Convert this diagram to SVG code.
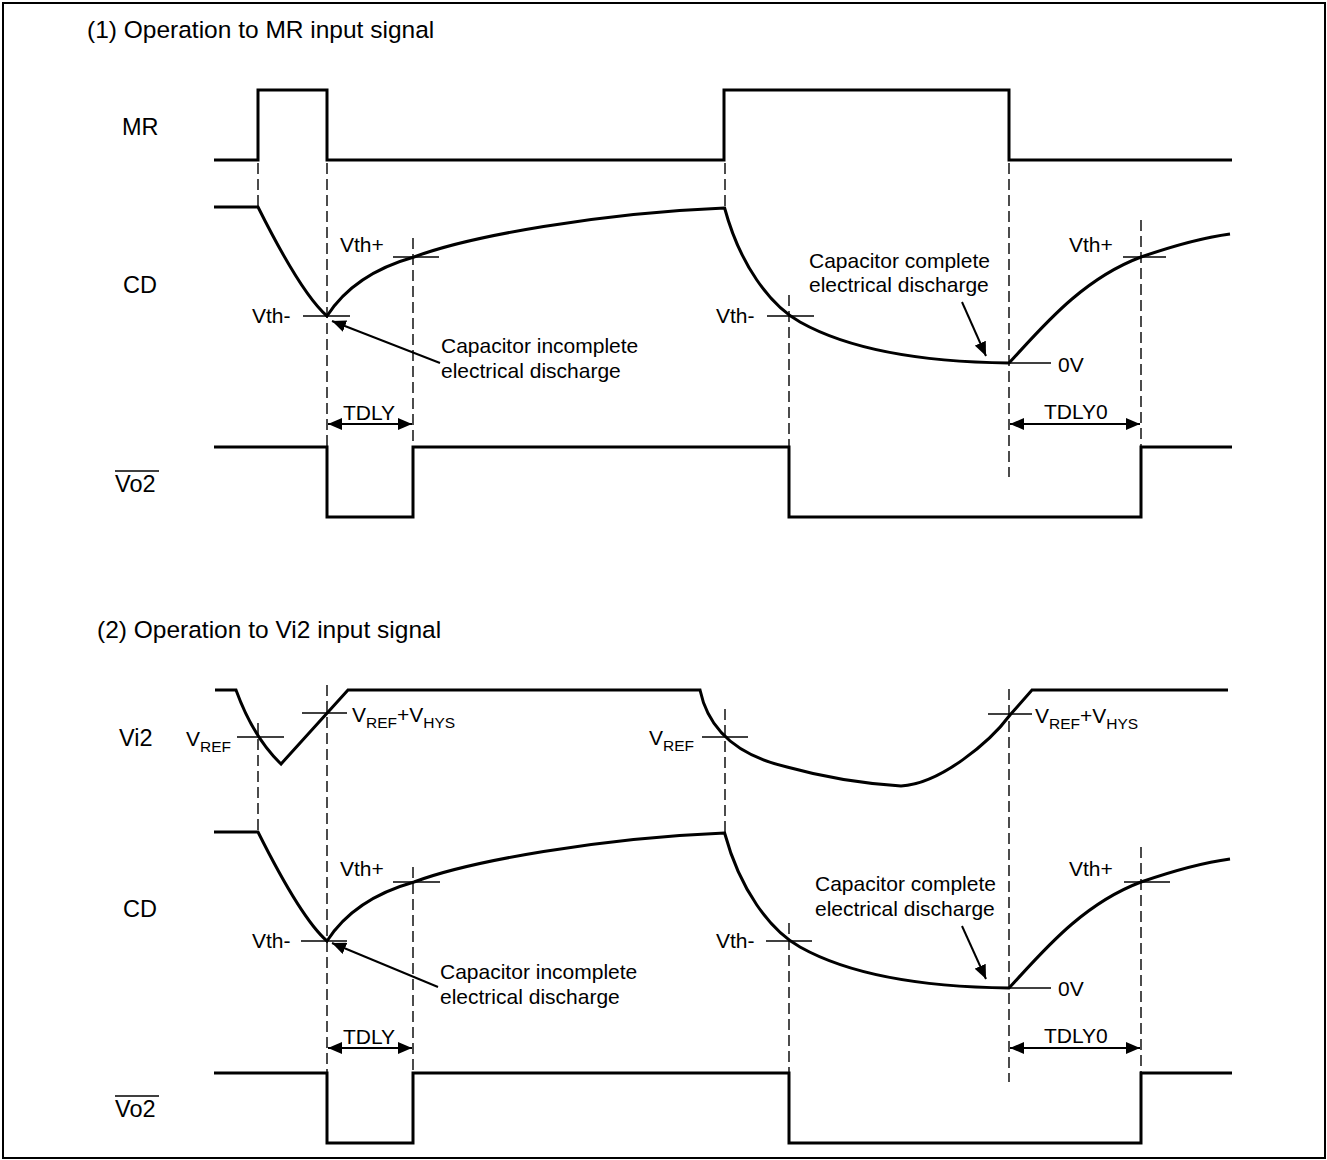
<svg xmlns="http://www.w3.org/2000/svg" width="1327" height="1160" viewBox="0 0 1327 1160">
<defs>
<marker id="ah" viewBox="0 0 14 12" refX="14" refY="6" markerWidth="14" markerHeight="12" markerUnits="userSpaceOnUse" orient="auto-start-reverse">
<path d="M0,0 L14,6 L0,12 z" fill="#000"/>
</marker>
<style>
text{font-family:"Liberation Sans",Arial,sans-serif;fill:#000}
.title{font-size:24.5px}
.lbl{font-size:23.5px}
.ann{font-size:21px}
.sub{font-size:15.5px}
.wave{fill:none;stroke:#000;stroke-width:3;stroke-linejoin:miter}
.tick{fill:none;stroke:#000;stroke-width:1.3}
.dash{fill:none;stroke:#000;stroke-width:1.4;stroke-dasharray:11 5}
.arr{fill:none;stroke:#000;stroke-width:2}
</style>
</defs>
<rect x="3" y="3" width="1322" height="1155" fill="#fff" stroke="#000" stroke-width="2"/>

<g id="section1">
<text class="title" x="87" y="38">(1) Operation to MR input signal</text>
<g id="mr-signal">
<text class="lbl" x="122" y="135">MR</text>
<path class="wave" d="M214,160 L258,160 L258,90 L327,90 L327,160 L724,160 L724,90 L1009,90 L1009,160 L1232,160"/>
</g>
<g id="cd-signal-1">
<text class="lbl" x="123" y="293">CD</text>
<path class="wave" d="M214,207 L258,207 C275,241 305,297 327,316 C345,288 375,268 414,257 C470,236 600,213 724.6,208 C740,265 770,305 800,322 C850,350 920,362 1009,363 C1040,330 1080,280 1141,257 C1170,247 1200,238 1230,234"/>
<line class="tick" x1="303" y1="316" x2="350" y2="316"/>
<line class="tick" x1="393" y1="257" x2="439" y2="257"/>
<line class="tick" x1="767" y1="316" x2="814" y2="316"/>
<line class="tick" x1="1009" y1="363" x2="1051" y2="363"/>
<line class="tick" x1="1123" y1="257" x2="1166" y2="257"/>
<text class="ann" x="252" y="323">Vth-</text>
<text class="ann" x="340" y="252">Vth+</text>
<text class="ann" x="716" y="323">Vth-</text>
<text class="ann" x="1069" y="252">Vth+</text>
<text class="ann" x="1058" y="372">0V</text>
<text class="ann" x="441" y="353">Capacitor incomplete</text>
<text class="ann" x="441" y="378">electrical discharge</text>
<text class="ann" x="809" y="268">Capacitor complete</text>
<text class="ann" x="809" y="292">electrical discharge</text>
</g>
<g id="vo2-signal-1">
<text class="lbl" x="115" y="492">Vo2</text>
<line x1="115" y1="471" x2="159" y2="471" stroke="#000" stroke-width="1.5"/>
<path class="wave" d="M214,447 L327,447 L327,517 L413,517 L413,447 L789,447 L789,517 L1141,517 L1141,447 L1232,447"/>
<text class="ann" x="343" y="420">TDLY</text>
<text class="ann" x="1044" y="419">TDLY0</text>
</g>
</g>

<g id="section2">
<text class="title" x="97" y="638">(2) Operation to Vi2 input signal</text>
<g id="vi2-signal">
<text class="lbl" x="119" y="746">Vi2</text>
<path class="wave" d="M215,690 L236,690 C244,712 258,742 281,764 L348,690 L700,690 C708,728 735,755 787,767 C830,779 870,784 901,786 C940,784 990,742 1010,715 L1032,690 L1228,690"/>
<line class="tick" x1="237" y1="737" x2="284" y2="737"/>
<line class="tick" x1="302" y1="713" x2="347" y2="713"/>
<line class="tick" x1="702" y1="737" x2="748" y2="737"/>
<line class="tick" x1="988" y1="714" x2="1032" y2="714"/>
<text class="ann" x="186" y="746">V<tspan class="sub" dy="6">REF</tspan></text>
<text class="ann" x="352" y="722">V<tspan class="sub" dy="6">REF</tspan><tspan dy="-6">+V</tspan><tspan class="sub" dy="6">HYS</tspan></text>
<text class="ann" x="649" y="745">V<tspan class="sub" dy="6">REF</tspan></text>
<text class="ann" x="1035" y="723">V<tspan class="sub" dy="6">REF</tspan><tspan dy="-6">+V</tspan><tspan class="sub" dy="6">HYS</tspan></text>
</g>
<g id="cd-signal-2">
<text class="lbl" x="123" y="917">CD</text>
<path class="wave" d="M214,832 L258,832 C275,866 305,922 327,941 C345,913 375,893 414,882 C470,861 600,838 724.6,833 C740,890 770,930 800,947 C850,975 920,987 1009,988 C1040,955 1080,905 1141,882 C1170,872 1200,863 1230,859"/>
<line class="tick" x1="301" y1="941" x2="347" y2="941"/>
<line class="tick" x1="393" y1="882" x2="440" y2="882"/>
<line class="tick" x1="766" y1="941" x2="812" y2="941"/>
<line class="tick" x1="1009" y1="988" x2="1051" y2="988"/>
<line class="tick" x1="1124" y1="882" x2="1170" y2="882"/>
<text class="ann" x="252" y="948">Vth-</text>
<text class="ann" x="340" y="876">Vth+</text>
<text class="ann" x="716" y="948">Vth-</text>
<text class="ann" x="1069" y="876">Vth+</text>
<text class="ann" x="1058" y="996">0V</text>
<text class="ann" x="440" y="979">Capacitor incomplete</text>
<text class="ann" x="440" y="1004">electrical discharge</text>
<text class="ann" x="815" y="891">Capacitor complete</text>
<text class="ann" x="815" y="916">electrical discharge</text>
</g>
<g id="vo2-signal-2">
<text class="lbl" x="115" y="1117">Vo2</text>
<line x1="115" y1="1096" x2="159" y2="1096" stroke="#000" stroke-width="1.5"/>
<path class="wave" d="M214,1073 L327,1073 L327,1143 L413,1143 L413,1073 L789,1073 L789,1143 L1141,1143 L1141,1073 L1232,1073"/>
<text class="ann" x="343" y="1044">TDLY</text>
<text class="ann" x="1044" y="1043">TDLY0</text>
</g>
</g>

<g id="connectors">
<line class="dash" x1="258" y1="163" x2="258" y2="206"/>
<line class="dash" x1="327" y1="163" x2="327" y2="446"/>
<line class="dash" x1="413" y1="238" x2="413" y2="446"/>
<line class="dash" x1="725" y1="163" x2="725" y2="207"/>
<line class="dash" x1="789" y1="295" x2="789" y2="446"/>
<line class="dash" x1="1009" y1="163" x2="1009" y2="477"/>
<line class="dash" x1="1141" y1="220" x2="1141" y2="446"/>

<line class="dash" x1="258" y1="723" x2="258" y2="831"/>
<line class="dash" x1="327" y1="685" x2="327" y2="1072"/>
<line class="dash" x1="413" y1="867" x2="413" y2="1072"/>
<line class="dash" x1="725" y1="709" x2="725" y2="832"/>
<line class="dash" x1="789" y1="923" x2="789" y2="1072"/>
<line class="dash" x1="1009" y1="689" x2="1009" y2="1082"/>
<line class="dash" x1="1141" y1="847" x2="1141" y2="1072"/>

<line class="arr" x1="328" y1="424" x2="412" y2="424" marker-start="url(#ah)" marker-end="url(#ah)"/>
<line class="arr" x1="1010" y1="424" x2="1140" y2="424" marker-start="url(#ah)" marker-end="url(#ah)"/>
<line class="arr" x1="440" y1="363" x2="332" y2="321" marker-end="url(#ah)"/>
<line class="arr" x1="962" y1="302" x2="986" y2="356" marker-end="url(#ah)"/>

<line class="arr" x1="328" y1="1048" x2="412" y2="1048" marker-start="url(#ah)" marker-end="url(#ah)"/>
<line class="arr" x1="1010" y1="1048" x2="1140" y2="1048" marker-start="url(#ah)" marker-end="url(#ah)"/>
<line class="arr" x1="438" y1="987" x2="332" y2="943" marker-end="url(#ah)"/>
<line class="arr" x1="962" y1="926" x2="986" y2="979" marker-end="url(#ah)"/>
</g>
</svg>
